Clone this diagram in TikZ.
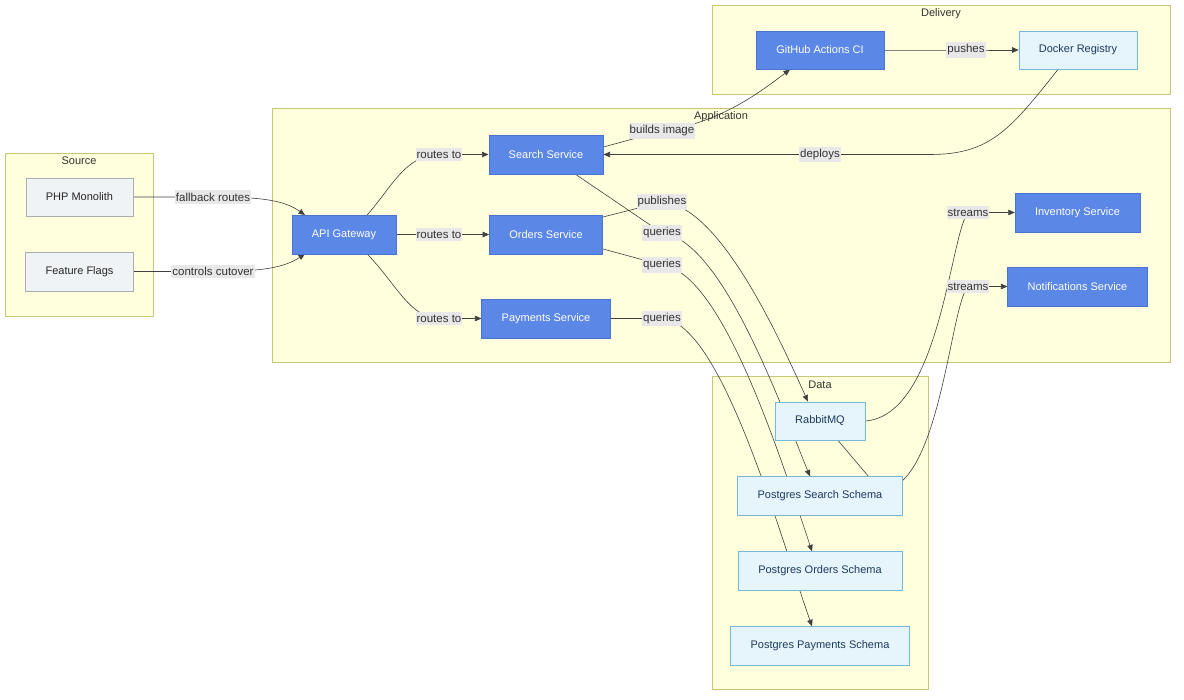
\documentclass[tikz,border=0pt]{standalone}
\usepackage{fontspec}
\setmainfont{Liberation Sans}
\usepackage{xcolor}
\usepackage{tikz}
\usetikzlibrary{arrows.meta,positioning}
\pgfdeclarelayer{background}
\pgfdeclarelayer{edges}
\pgfsetlayers{background,edges,main}
\definecolor{clusterfill}{HTML}{FFFFDE}
\definecolor{clusterline}{HTML}{C6C676}
\definecolor{svcfill}{HTML}{5B87E6}
\definecolor{svcline}{HTML}{4A72CF}
\definecolor{storefill}{HTML}{E6F4FC}
\definecolor{storeline}{HTML}{78B7D9}
\definecolor{storetext}{HTML}{1D3A5C}
\definecolor{legacyfill}{HTML}{F0F3F5}
\definecolor{legacyline}{HTML}{A7AFB1}
\definecolor{labelfill}{HTML}{E8E8E8}
\definecolor{inktext}{HTML}{333333}

\begin{document}
\begin{tikzpicture}[
    x=1pt, y=-1pt,
    node distance=36pt,
    every node/.style={font=\fontsize{11}{13}\selectfont},
    cluster/.style={draw=clusterline, fill=clusterfill, line width=0.8pt},
    clustertitle/.style={text=inktext, inner sep=1pt},
    svc/.style={rectangle, draw=svcline, fill=svcfill, text=white, minimum height=38.5pt, inner xsep=20pt},
    store/.style={rectangle, draw=storeline, fill=storefill, text=storetext, minimum height=38.5pt, inner xsep=20pt},
    legacy/.style={rectangle, draw=legacyline, fill=legacyfill, text=black!85, minimum height=38.5pt, inner xsep=20pt},
    elabel/.style={fill=labelfill, text=inktext, inner xsep=1pt, inner ysep=2.5pt, font=\fontsize{11.5}{13}\selectfont},
    edge/.style={-{Triangle[length=6.5pt,width=5.5pt]}, draw=black!75, line width=0.6pt}
]
    \useasboundingbox (0,0) rectangle (1184,700);

    \begin{pgfonlayer}{background}
        \draw [cluster] (5,153) rectangle (153,316);
        \draw [cluster] (712,5) rectangle (1170,94);
        \draw [cluster] (272,108) rectangle (1170,362);
        \draw [cluster] (712,376) rectangle (928,689);
    \end{pgfonlayer}
    \node [clustertitle] (srctitle) at (79,161) {Source};
    \node [clustertitle] (deltitle) at (941,14) {Delivery};
    \node [clustertitle] (apptitle) at (721,117) {Application};
    \node [clustertitle] (datatitle) at (820,385) {Data};

    \node [legacy] (php) at (79.5,197) {PHP Monolith};
    \node [legacy] (flags) at (79.5,271.5) {Feature Flags};
    \node [svc] (api) at (344,234.5) {API Gateway};
    \node [svc] (search) at (546,154.5) {Search Service};
    \node [svc] (orders) at (546,234.5) {Orders Service};
    \node [svc] (pay) at (546,318.5) {Payments Service};
    \node [svc] (gha) at (820,50) {GitHub Actions CI};
    \node [store] (registry) at (1078,50) {Docker Registry};
    \node [svc] (inventory) at (1077.5,212.5) {Inventory Service};
    \node [svc] (notify) at (1077.5,286.5) {Notifications Service};
    \node [store] (rabbit) at (820,421) {RabbitMQ};
    \node [store, below=of rabbit] (pgsearch) {Postgres Search Schema};
    \node [store, below=of pgsearch] (pgorders) {Postgres Orders Schema};
    \node [store, below=of pgorders] (pgpay) {Postgres Payments Schema};

    \begin{pgfonlayer}{edges}
        \draw [edge] (php.east) -- (213,197) node [elabel] (lfallback) {fallback routes}
            .. controls (265,197) and (285,201) .. ([xshift=-39pt]api.north);
        \draw [edge] (flags.east) -- (213,271.5) node [elabel] (lcutover) {controls cutover}
            .. controls (265,271.5) and (285,267) .. ([xshift=-39pt]api.south);
        \draw [edge] ([xshift=23pt]api.north) .. controls (390,190) and (405,154.5) .. (439,154.5)
            node [elabel] (lroutes1) {routes to} -- (search.west);
        \draw [edge] (api.east) -- (439,234.5) node [elabel] (lroutes2) {routes to} -- (orders.west);
        \draw [edge] ([xshift=23pt]api.south) .. controls (395,282) and (410,318.5) .. (439,318.5)
            node [elabel] (lroutes3) {routes to} -- (pay.west);
        \draw [edge] ([yshift=7.5pt]search.east) -- (662,131) node [elabel] (lbuilds) {builds image}
            .. controls (715,123) and (750,100) .. ([xshift=-30pt]gha.south);
        \draw [edge] (gha.east) -- (966,50) node [elabel] (lpushes) {pushes} -- (registry.west);
        \draw [edge] ([xshift=-20pt]registry.south) .. controls (1010,130) and (990,154.5) .. (930,154.5)
            -- (820,154.5) node [elabel] (ldeploys) {deploys} -- (search.east);
        \draw [edge] ([yshift=-2pt]orders.north east) -- (662,202) node [elabel] (lpublishes) {publishes}
            .. controls (720,205) and (780,340) .. ([xshift=-12pt]rabbit.north);
        \draw [edge] ([xshift=29pt]search.south) -- (662,233) node [elabel] (lqsearch) {queries}
            .. controls (720,240) and (775,390) .. ([xshift=-10pt]pgsearch.north);
        \draw [edge] ([yshift=5pt]orders.south east) -- (662,265) node [elabel] (lqorders) {queries}
            .. controls (720,272) and (775,440) .. ([xshift=-8pt]pgorders.north);
        \draw [edge] (pay.east) -- (662,318.5) node [elabel] (lqpay) {queries}
            .. controls (720,322) and (775,520) .. ([xshift=-8pt]pgpay.north);
        \draw [edge] (rabbit.east) .. controls (940,416) and (950,235) .. (968,212.5)
            node [elabel] (lstream1) {streams} -- (inventory.west);
        \draw [edge] ([xshift=18pt]rabbit.south) -- (880,490)
            .. controls (940,492) and (950,305) .. (968,286.5)
            node [elabel] (lstream2) {streams} -- (notify.west);
    \end{pgfonlayer}
\end{tikzpicture}
\end{document}
